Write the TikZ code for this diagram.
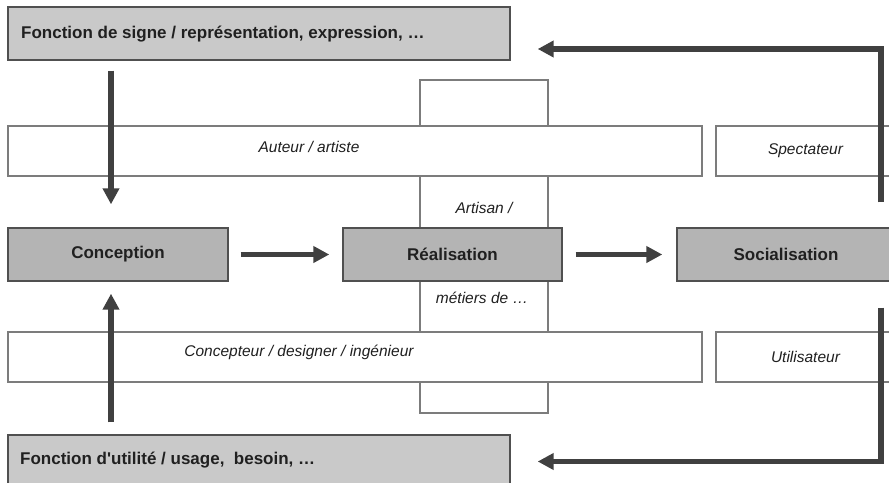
\documentclass[tikz,border=0pt]{standalone}
\usepackage{fontspec}
\setmainfont{Liberation Sans}
\usepackage{tikz}
\usetikzlibrary{arrows.meta}
\definecolor{grisclair}{HTML}{C9C9C9}
\definecolor{grismoyen}{HTML}{B4B4B4}
\definecolor{grisfonce}{HTML}{505050}
\definecolor{grisfleche}{HTML}{404040}
\definecolor{gristrait}{HTML}{7C7C7C}
\definecolor{encre}{HTML}{202020}
\tikzset{
  fonction/.style={draw=grisfonce, line width=1.4pt, fill=grisclair, minimum width=502pt, minimum height=53pt, inner sep=0pt},
  etape/.style={draw=grisfonce, line width=1.4pt, fill=grismoyen, minimum height=53pt, inner sep=0pt, text=encre, font=\bfseries\fontsize{17}{20}\selectfont},
  role/.style={draw=gristrait, line width=1.1pt, fill=white, minimum height=50pt, inner sep=0pt, text=encre, font=\itshape\fontsize{15.5}{18}\selectfont},
  titre/.style={text=encre, font=\bfseries\fontsize{17}{20}\selectfont, inner sep=0pt},
  metier/.style={text=encre, font=\itshape\fontsize{15.5}{18}\selectfont, inner sep=0pt},
  fleche/.style={draw=grisfleche, line width=5.5pt, -{Triangle[length=16pt,width=16pt]}}
}
\begin{document}
\begin{tikzpicture}[x=1pt, y=-1pt]
                    \clip (0,0) rectangle (889,482);
                    \fill[white] (0,0) rectangle (889,482);

                    % bande verticale du milieu
                    \node[role, minimum width=128pt, minimum height=333pt] (artisan) at (484, 246.5) {};

                    \node[fonction] (signe) at (259, 33.5) {};
                    \node[fonction] (utilite) at (259, 461.5) {};
                    \node[titre, anchor=west] (signetxt) at (21, 34) {Fonction de signe / représentation, expression, …};
                    \node[titre, anchor=west] (utilitetxt) at (20, 460) {Fonction d\textquotesingle utilité / usage,\ \ besoin, …};

                    \node[role, minimum width=694pt] (auteur) at (355, 151) {};
                    \node[role, minimum width=694pt] (concepteur) at (355, 357) {};
                    \node[role, minimum width=179pt] (spectateur) at (805.5, 151) {Spectateur};
                    \node[role, minimum width=179pt] (utilisateur) at (805.5, 357) {Utilisateur};
                    \node[metier] (auteurtxt) at (309, 147) {Auteur / artiste};
                    \node[metier] (concepteurtxt) at (299, 352) {Concepteur / designer / ingénieur};
                    \node[metier] (artisanhaut) at (484, 208) {Artisan /};
                    \node[metier] (artisanbas) at (482, 298) {métiers de …};

                    \node[etape, minimum width=220pt] (conception) at (118, 254.5) {Conception};
                    \node[etape, minimum width=219pt] (realisation) at (452.5, 254.5) {Réalisation};
                    \node[etape, minimum width=218pt] (socialisation) at (786, 254.5) {Socialisation};

                    \coordinate (axe) at (111, 0);
                    \coordinate (retour) at (881, 0);

                    \draw[fleche, shorten <=12pt, shorten >=13pt] (conception) -- (realisation);
                    \draw[fleche, shorten <=13pt, shorten >=14pt] (realisation) -- (socialisation);
                    \draw[fleche, shorten <=10pt, shorten >=23pt] (signe.south -| axe) -- (conception.north -| axe);
                    \draw[fleche, shorten <=12pt, shorten >=12pt] (utilite.north -| axe) -- (conception.south -| axe);
                    % retours vers les fonctions
                    \draw[fleche, shorten <=25pt, shorten >=27pt] (socialisation.north -| retour) |- ([yshift=-15.5pt]signe.east);
                    \draw[fleche, shorten <=26pt, shorten >=27pt] (socialisation.south -| retour) |- (utilite.east);

                \end{tikzpicture}
\end{document}
